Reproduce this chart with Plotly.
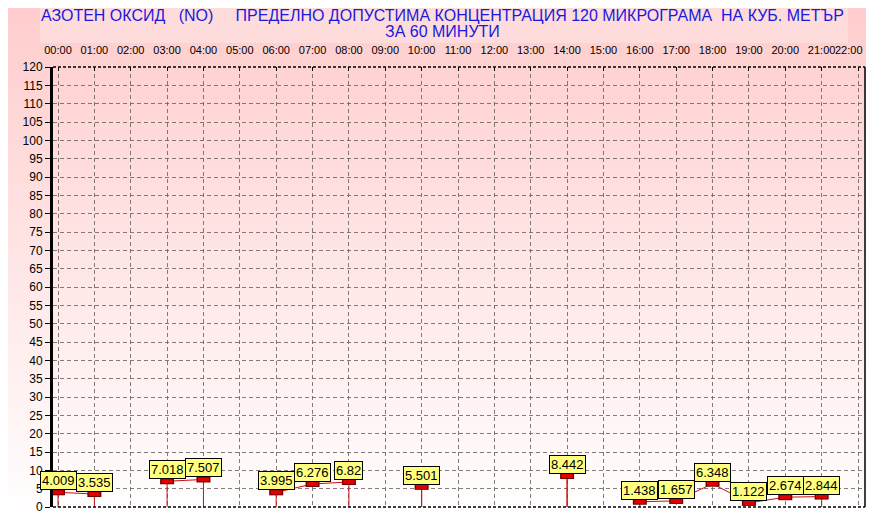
import plotly.graph_objects as go

hours = list(range(22))
values = [4.009, 3.535, None, 7.018, 7.507, None, 3.995, 6.276, 6.82, None,
          5.501, None, None, None, 8.442, None, 1.438, 1.657, 6.348, 1.122,
          2.674, 2.844]
tick_hours = list(range(23))
tick_labels = [f"{h:02d}:00" for h in tick_hours]
y_ticks = list(range(0, 121, 5))
title_line1 = "АЗОТЕН ОКСИД   (NO)     ПРЕДЕЛНО ДОПУСТИМА КОНЦЕНТРАЦИЯ 120 МИКРОГРАМА  НА КУБ. МЕТЪР"
title_line2 = "ЗА 60 МИНУТИ"

# page body adds an 8px margin on every side; work in window pixel coordinates
OFF = 8
WIN_W, WIN_H = 874, 529
W, H = WIN_W - 2 * OFF, WIN_H - 2 * OFF
PL, PR, PT, PB = 53, 865, 67, 507          # plot box in window pixels
ML, MR, MT, MB = PL - OFF, W - (PR - OFF), PT - OFF, H - (PB - OFF)
PW, PH = PR - PL, PB - PT

def py2p(py):  # window pixel y -> paper y
    return (PB - py) / PH

def px2p(px):  # window pixel x -> paper x
    return (px - PL) / PW

# line path: segments of consecutive data with vertical drops to 0 at gaps
lx, ly = [], []
prev = None
for h, v in zip(hours, values):
    if v is None:
        if prev is not None:
            lx.append(prev[0]); ly.append(0)
            lx.append(None); ly.append(None)
        prev = None
        continue
    if prev is None:
        lx.append(h); ly.append(0)
    lx.append(h); ly.append(v)
    prev = (h, v)
if prev is not None:
    lx.append(prev[0]); ly.append(0)

px_ = [h for h, v in zip(hours, values) if v is not None]
py_ = [v for v in values if v is not None]

fig = go.Figure()
fig.add_trace(go.Scatter(x=lx, y=ly, mode="lines", line=dict(color="#D01010", width=1),
                         hoverinfo="skip", showlegend=False, connectgaps=False))
fig.add_trace(go.Scatter(x=px_, y=py_, mode="markers", showlegend=False,
                         marker=dict(symbol="line-ew", size=10,
                                     line=dict(color="#700000", width=6))))
fig.add_trace(go.Scatter(x=px_, y=py_, mode="markers", showlegend=False,
                         marker=dict(symbol="line-ew", size=8,
                                     line=dict(color="#E00000", width=4))))

shapes = []
# vertical gradient background
N = 80
top_c, bot_c = (255, 203, 203), (255, 253, 253)
grad_end = PB
for i in range(N):
    y0 = grad_end * i / N
    y1 = grad_end * (i + 1) / N
    t = (i + 0.5) / N
    c = tuple(round(top_c[k] + (bot_c[k] - top_c[k]) * t) for k in range(3))
    shapes.append(dict(type="rect", xref="paper", yref="paper", layer="below",
                       x0=px2p(0), x1=px2p(WIN_W),
                       y0=py2p(y1 + 0.5), y1=py2p(y0 - 8),
                       fillcolor=f"rgb{c}", line=dict(width=0)))
# title box
shapes.append(dict(type="rect", xref="paper", yref="paper", layer="below",
                   x0=px2p(40), x1=px2p(848), y0=py2p(43), y1=py2p(4),
                   fillcolor="rgb(255,220,220)", line=dict(width=0)))
# borders
shapes.append(dict(type="line", xref="paper", yref="paper", x0=0, x1=1, y0=1, y1=1,
                   line=dict(color="black", width=1.5, dash="3px,2px")))
shapes.append(dict(type="line", xref="paper", yref="paper", x0=0, x1=1, y0=0, y1=0,
                   line=dict(color="black", width=1.5, dash="3px,2px")))
shapes.append(dict(type="line", xref="paper", yref="paper", x0=1, x1=1, y0=0, y1=1,
                   line=dict(color="black", width=1.5)))

tfont = dict(family="Liberation Sans, Arial", size=16, color="#1a1adc")
annotations = [
    dict(x=px2p(442), xref="paper", y=py2p(16), yref="paper", xanchor="center",
         yanchor="middle", showarrow=False, text=title_line1, font=tfont),
    dict(x=px2p(442), xref="paper", y=py2p(32), yref="paper", xanchor="center",
         yanchor="middle", showarrow=False, text=title_line2, font=tfont),
    # last hour label kept inside the visible page edge
    dict(x=px2p(865), xref="paper", y=py2p(50), yref="paper", xanchor="right",
         yanchor="middle", showarrow=False, text=tick_labels[-1],
         font=dict(family="Liberation Sans, Arial", size=11, color="black")),
]
for h, v in zip(px_, py_):
    annotations.append(dict(x=h, y=v, xref="x", yref="y", text=f"{v:g}",
                            showarrow=False, xanchor="center", yanchor="bottom",
                            yshift=2, bgcolor="#FFFF80", bordercolor="black",
                            borderwidth=1, borderpad=1,
                            font=dict(family="Liberation Sans, Arial", size=13, color="black")))

axis_text = tick_labels[:-1] + [""]

xpx = 36.36
fig.update_layout(
    width=W, height=H,
    margin=dict(l=ML, r=MR, t=MT, b=MB, pad=0, autoexpand=False),
    paper_bgcolor="white", plot_bgcolor="rgba(0,0,0,0)",
    shapes=shapes, annotations=annotations, showlegend=False,
    font=dict(family="Liberation Sans, Arial", size=11, color="black"),
    xaxis=dict(range=[-5 / xpx, 22 + 7 / xpx], side="top", tickmode="array",
               tickvals=tick_hours, ticktext=axis_text, showgrid=True,
               gridcolor="rgba(110,100,100,0.85)", griddash="4px,3px", gridwidth=1,
               ticks="inside", ticklen=4, tickcolor="black", zeroline=False,
               showline=False, ticklabelstandoff=10, tickfont=dict(size=11),
               ticklabeloverflow="allow", automargin=False),
    yaxis=dict(range=[0, 120], tickmode="array", tickvals=y_ticks, showgrid=True,
               gridcolor="rgba(110,100,100,0.85)", griddash="4px,3px", gridwidth=1,
               ticks="outside", ticklen=5, tickcolor="black", zeroline=False,
               showline=True, linecolor="black", linewidth=3,
               tickfont=dict(size=12), automargin=False),
)

fig.write_html("out.html")
